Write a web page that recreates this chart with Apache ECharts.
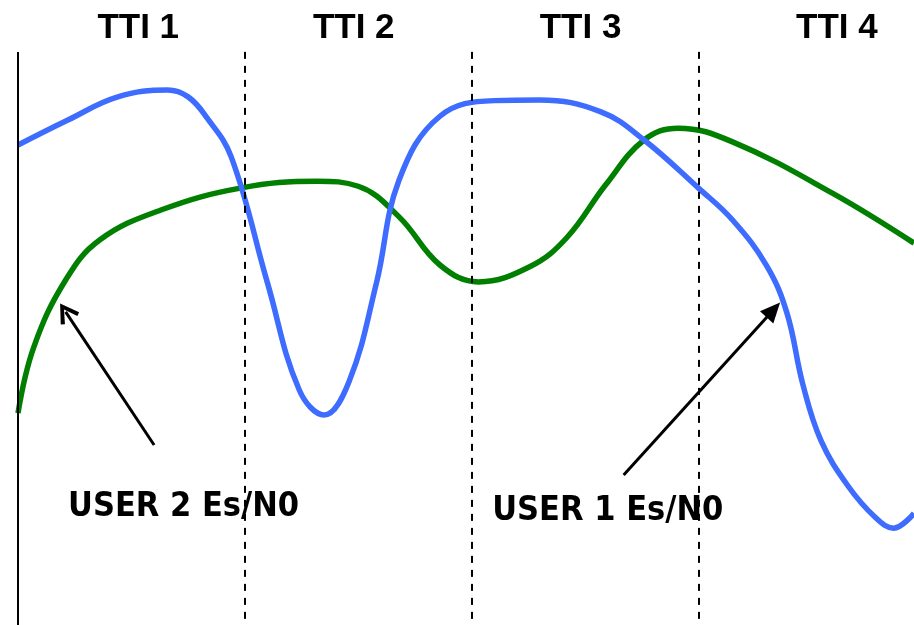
<!DOCTYPE html>
<html>
<head>
<meta charset="utf-8">
<script src="https://cdn.jsdelivr.net/npm/echarts@6/dist/echarts.min.js"></script>
<style>
  html, body { margin: 0; padding: 0; background: #fff; }
  #chart { width: 914px; height: 625px; }
</style>
</head>
<body>
<div id="chart"></div>
<script>
// Time axis in TTI units (0 = start of TTI 1), Es/N0 on a relative 0-100 scale.
const ttiLabels = ['TTI 1', 'TTI 2', 'TTI 3', 'TTI 4'];
const ttiLabelX = [0.53, 1.48, 2.48, 3.61];
const ttiBoundaries = [0, 1, 2, 3];

// User 1 Es/N0 (blue)
const user1Time = [0, 0.22, 0.44, 0.66, 0.75, 0.83, 0.94, 1.10, 1.24, 1.35, 1.46, 1.58, 1.68, 1.86, 2.10, 2.30, 2.57, 2.76, 3.00, 3.15, 3.30, 3.39, 3.46, 3.54, 3.66, 3.78, 3.86, 3.95];
const user1EsN0 = [76.8, 80.8, 84.5, 85.6, 84.5, 81.3, 74.9, 54.7, 37.6, 33.6, 39.0, 54.7, 71.2, 81.4, 83.9, 84.0, 82.1, 77.6, 69.9, 64.8, 57.5, 49.9, 38.5, 29.5, 22.2, 17.2, 15.5, 17.9];

// User 2 Es/N0 (green)
const user2Time = [0, 0.07, 0.21, 0.36, 0.63, 0.98, 1.32, 1.50, 1.68, 1.86, 2.03, 2.26, 2.42, 2.59, 2.76, 2.91, 3.15, 3.59, 3.95];
const user2EsN0 = [33.9, 44.5, 55.2, 61.6, 66.4, 69.9, 71.0, 70.2, 65.3, 57.6, 54.9, 57.4, 62.0, 70.4, 77.6, 79.5, 77.3, 69.1, 61.1];

// Annotation arrows: [tailX, tailY, headX, headY]
const user1Arrow = [2.67, 24.0, 3.33, 50.4];
const user2Arrow = [0.60, 28.8, 0.21, 50.1];
const user1Caption = { text: 'USER 1 Es/N0', x: 2.60, y: 18.2 };
const user2Caption = { text: 'USER 2 Es/N0', x: 0.73, y: 18.9 };

const zip = (xs, ys) => xs.map((x, i) => [x, ys[i]]);

const captionLabel = {
  show: true, position: 'inside', color: '#000',
  fontFamily: '"DejaVu Sans Condensed", "DejaVu Sans", sans-serif',
  fontWeight: 'bold', fontSize: 34
};

function captionPoint(c) {
  return {
    coord: [c.x, c.y], symbol: 'rect', symbolSize: [1, 1],
    itemStyle: { color: 'rgba(0,0,0,0)' },
    label: Object.assign({}, captionLabel, { formatter: c.text })
  };
}

const openHead = 'path://M5,0 L10,8.5 L8.4,9.6 L5,3.4 L1.6,9.6 L0,8.5 Z';

const chart = echarts.init(document.getElementById('chart'));
chart.setOption({
  animation: false,
  grid: { left: 18, right: 0, top: 0, bottom: 0 },
  xAxis: { type: 'value', min: 0, max: 3.95, show: false },
  yAxis: { type: 'value', min: 0, max: 100, show: false },
  series: [
    {
      name: 'USER 1 Es/N0', type: 'line', smooth: 0.4, symbol: 'none',
      data: zip(user1Time, user1EsN0),
      lineStyle: { color: '#3d6cff', width: 5.5 },
      z: 3,
      markLine: {
        silent: true, label: { show: false },
        symbol: ['none', 'none'],
        data: ttiBoundaries.map((b, i) => [
          { coord: [b, 91.7], lineStyle: { color: '#000', width: 2, type: i === 0 ? 'solid' : [7, 7] } },
          { coord: [b, i === 0 ? 0 : 0.8] }
        ]).concat([[
          { coord: [user1Arrow[0], user1Arrow[1]], symbol: 'none',
            lineStyle: { color: '#000', width: 3, type: 'solid' } },
          { coord: [user1Arrow[2], user1Arrow[3]], symbol: 'triangle', symbolSize: [18, 20] }
        ]])
      },
      markPoint: {
        silent: true,
        data: ttiLabels.map((t, i) => ({
          coord: [ttiLabelX[i], 95.5], symbol: 'rect', symbolSize: [1, 1],
          itemStyle: { color: 'rgba(0,0,0,0)' },
          label: {
            show: true, position: 'inside', formatter: t, color: '#000',
            fontFamily: '"Liberation Sans", Arial, sans-serif', fontWeight: 'bold', fontSize: 35
          }
        })).concat([captionPoint(user1Caption)])
      }
    },
    {
      name: 'USER 2 Es/N0', type: 'line', smooth: 0.4, symbol: 'none',
      data: zip(user2Time, user2EsN0),
      lineStyle: { color: '#007f00', width: 5.5 },
      z: 2,
      markLine: {
        silent: true, label: { show: false },
        data: [[
          { coord: [user2Arrow[0], user2Arrow[1]], symbol: 'none',
            lineStyle: { color: '#000', width: 3, type: 'solid' } },
          { coord: [user2Arrow[2], user2Arrow[3]], symbol: openHead, symbolSize: [22, 20] }
        ]]
      },
      markPoint: { silent: true, data: [captionPoint(user2Caption)] }
    }
  ]
});
</script>
</body>
</html>
